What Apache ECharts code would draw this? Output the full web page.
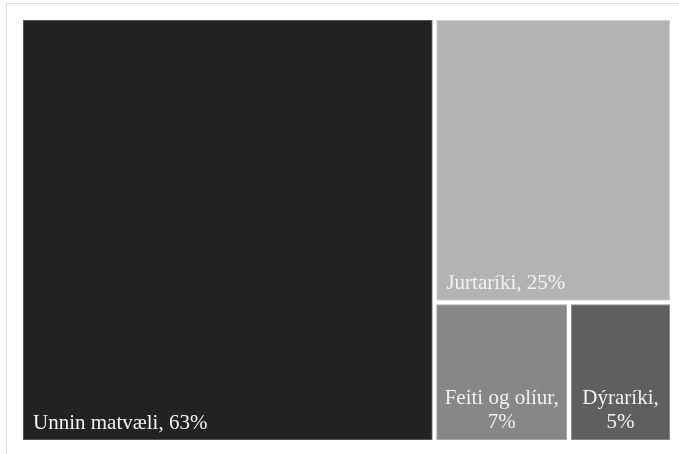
<!DOCTYPE html>
<html>
<head>
<meta charset="utf-8">
<script src="https://cdn.jsdelivr.net/npm/echarts@6/dist/echarts.min.js"></script>
<style>
html,body{margin:0;padding:0;background:#fff;}
#frame{position:absolute;left:6px;top:3px;width:700px;height:500px;border-left:1px solid #dcdcdc;border-top:1px solid #dcdcdc;}
#chart{position:absolute;left:0;top:0;width:679px;height:454px;}
</style>
</head>
<body>
<div id="frame"></div>
<div id="chart"></div>
<script>
const categories = ["Unnin matvæli", "Jurtaríki", "Feiti og olíur", "Dýraríki"];
const values = [63.5, 24.5, 6.8, 5.2];
const percentLabels = ["63%", "25%", "7%", "5%"];
const colors = ["#222222", "#b3b3b3", "#878787", "#5f5f5f"];
const edgeColors = ["#555555", "#cfcfcf", "#a8a8a8", "#8a8a8a"];
const twoLine = [false, false, true, true];

const data = categories.map((name, i) => ({
  name: name,
  value: values[i],
  itemStyle: { color: colors[i], borderColor: edgeColors[i], borderWidth: 1 },
  label: twoLine[i]
    ? { position: 'insideBottom', align: 'center', formatter: name + ',\n' + percentLabels[i], distance: 2, offset: [0, 2], lineHeight: 24 }
    : { position: 'insideBottomLeft', formatter: name + ', ' + percentLabels[i], distance: 4, offset: [0, 4] }
}));

const chart = echarts.init(document.getElementById('chart'), null, { renderer: 'canvas' });
chart.setOption({
  animation: false,
  series: [{
    type: 'treemap',
    left: 23, top: 20, width: 647, height: 420,
    roam: false,
    nodeClick: false,
    breadcrumb: { show: false },
    sort: 'desc',
    label: {
      show: true,
      color: '#f2f2f2',
      fontFamily: 'Liberation Serif',
      fontSize: 21,
      lineHeight: 22
    },
    upperLabel: { show: false },
    itemStyle: { borderWidth: 0, gapWidth: 4 },
    levels: [{ itemStyle: { borderWidth: 0, gapWidth: 4 } }],
    data: data
  }]
});
</script>
</body>
</html>
